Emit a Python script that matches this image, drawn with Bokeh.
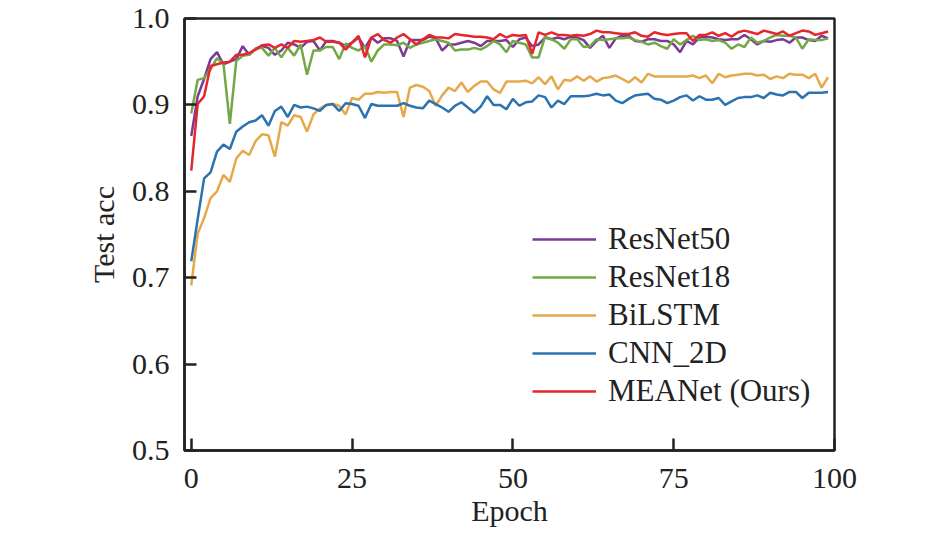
from bokeh.plotting import figure
from bokeh.models import Range1d, FixedTicker, PrintfTickFormatter
from bokeh.embed import file_html
from bokeh.resources import INLINE

epochs = list(range(100))

resnet50 = [
    0.864, 0.910, 0.930, 0.953, 0.961, 0.947, 0.950, 0.953, 0.968, 0.958,
    0.965, 0.968, 0.966, 0.958, 0.963, 0.972, 0.970, 0.966, 0.973, 0.974,
    0.963, 0.974, 0.974, 0.972, 0.968, 0.972, 0.978, 0.966, 0.978, 0.972,
    0.977, 0.977, 0.974, 0.956, 0.975, 0.975, 0.975, 0.979, 0.977, 0.963,
    0.970, 0.970, 0.972, 0.974, 0.972, 0.968, 0.974, 0.974, 0.974, 0.975,
    0.967, 0.976, 0.978, 0.968, 0.970, 0.978, 0.976, 0.978, 0.976, 0.979,
    0.978, 0.975, 0.966, 0.974, 0.980, 0.966, 0.977, 0.980, 0.980, 0.974,
    0.973, 0.976, 0.976, 0.974, 0.974, 0.970, 0.961, 0.974, 0.970, 0.978,
    0.979, 0.978, 0.976, 0.975, 0.976, 0.976, 0.981, 0.976, 0.970, 0.974,
    0.973, 0.975, 0.976, 0.972, 0.978, 0.978, 0.975, 0.974, 0.980, 0.977,
]

resnet18 = [
    0.890, 0.929, 0.931, 0.941, 0.954, 0.948, 0.878, 0.951, 0.957, 0.958,
    0.965, 0.966, 0.957, 0.966, 0.955, 0.966, 0.957, 0.970, 0.935, 0.963,
    0.963, 0.967, 0.967, 0.953, 0.971, 0.966, 0.963, 0.968, 0.950, 0.963,
    0.970, 0.970, 0.969, 0.972, 0.966, 0.970, 0.972, 0.974, 0.976, 0.974,
    0.972, 0.963, 0.964, 0.964, 0.966, 0.964, 0.968, 0.974, 0.970, 0.961,
    0.974, 0.972, 0.970, 0.955, 0.955, 0.979, 0.976, 0.972, 0.965, 0.976,
    0.976, 0.967, 0.968, 0.976, 0.975, 0.976, 0.977, 0.977, 0.978, 0.975,
    0.973, 0.970, 0.972, 0.968, 0.965, 0.976, 0.970, 0.975, 0.980, 0.975,
    0.976, 0.974, 0.975, 0.972, 0.965, 0.970, 0.967, 0.978, 0.972, 0.974,
    0.978, 0.981, 0.980, 0.980, 0.978, 0.965, 0.976, 0.975, 0.975, 0.977,
]

bilstm = [
    0.691, 0.751, 0.769, 0.792, 0.800, 0.819, 0.811, 0.838, 0.847, 0.842,
    0.858, 0.866, 0.865, 0.840, 0.880, 0.876, 0.888, 0.886, 0.869, 0.889,
    0.896, 0.900, 0.901, 0.899, 0.889, 0.908, 0.906, 0.913, 0.913, 0.915,
    0.914, 0.915, 0.915, 0.886, 0.920, 0.923, 0.921, 0.916, 0.899, 0.911,
    0.920, 0.916, 0.926, 0.915, 0.922, 0.927, 0.927, 0.918, 0.914, 0.927,
    0.927, 0.927, 0.928, 0.925, 0.932, 0.924, 0.933, 0.918, 0.929, 0.928,
    0.933, 0.928, 0.933, 0.927, 0.931, 0.932, 0.934, 0.930, 0.926, 0.932,
    0.926, 0.936, 0.933, 0.933, 0.933, 0.933, 0.933, 0.933, 0.934, 0.931,
    0.934, 0.925, 0.936, 0.932, 0.934, 0.935, 0.936, 0.936, 0.934, 0.935,
    0.930, 0.933, 0.931, 0.936, 0.935, 0.935, 0.931, 0.936, 0.920, 0.932,
]

cnn_2d = [
    0.719, 0.768, 0.815, 0.822, 0.846, 0.854, 0.849, 0.869, 0.875, 0.880,
    0.882, 0.888, 0.876, 0.893, 0.898, 0.886, 0.900, 0.897, 0.898, 0.896,
    0.893, 0.900, 0.901, 0.893, 0.902, 0.901, 0.899, 0.885, 0.901, 0.899,
    0.899, 0.899, 0.899, 0.902, 0.899, 0.897, 0.896, 0.905, 0.901, 0.897,
    0.892, 0.899, 0.903, 0.897, 0.891, 0.898, 0.910, 0.900, 0.900, 0.895,
    0.907, 0.899, 0.903, 0.904, 0.911, 0.909, 0.897, 0.905, 0.901, 0.910,
    0.910, 0.910, 0.911, 0.913, 0.911, 0.912, 0.905, 0.902, 0.907, 0.911,
    0.912, 0.913, 0.907, 0.906, 0.902, 0.905, 0.909, 0.911, 0.905, 0.910,
    0.906, 0.906, 0.908, 0.900, 0.904, 0.908, 0.909, 0.909, 0.911, 0.908,
    0.914, 0.912, 0.911, 0.915, 0.915, 0.908, 0.914, 0.914, 0.914, 0.915,
]

meanet = [
    0.824, 0.901, 0.910, 0.945, 0.947, 0.949, 0.950, 0.958, 0.958, 0.960,
    0.964, 0.969, 0.970, 0.966, 0.970, 0.966, 0.974, 0.973, 0.974, 0.975,
    0.978, 0.973, 0.973, 0.972, 0.964, 0.972, 0.980, 0.955, 0.978, 0.982,
    0.975, 0.972, 0.978, 0.982, 0.976, 0.970, 0.976, 0.981, 0.978, 0.978,
    0.977, 0.982, 0.981, 0.980, 0.979, 0.979, 0.978, 0.976, 0.982, 0.978,
    0.981, 0.980, 0.981, 0.959, 0.984, 0.981, 0.984, 0.981, 0.981, 0.980,
    0.981, 0.980, 0.982, 0.986, 0.984, 0.984, 0.983, 0.982, 0.982, 0.984,
    0.980, 0.979, 0.984, 0.982, 0.981, 0.982, 0.983, 0.983, 0.974, 0.981,
    0.981, 0.984, 0.980, 0.983, 0.979, 0.984, 0.986, 0.984, 0.982, 0.986,
    0.984, 0.982, 0.985, 0.980, 0.983, 0.986, 0.985, 0.981, 0.983, 0.985,
]

series = [
    ("ResNet50", resnet50, "#7B3A96"),
    ("ResNet18", resnet18, "#72A846"),
    ("BiLSTM", bilstm, "#E5A94A"),
    ("CNN_2D", cnn_2d, "#2B72B0"),
    ("MEANet (Ours)", meanet, "#E5272B"),
]

FONT = "Liberation Serif"
INK = "#222222"

p = figure(width=937, height=536, output_backend="svg", toolbar_location=None,
           x_range=Range1d(-1.05, 100), y_range=Range1d(0.5, 1.0),
           min_border_left=184, min_border_right=103,
           min_border_top=18, min_border_bottom=86)

for name, vals, color in series:
    p.line(epochs, vals, color=color, line_width=2.5, legend_label=name)

p.xgrid.visible = False
p.ygrid.visible = False
p.outline_line_color = INK
p.outline_line_width = 2.5

p.xaxis.ticker = FixedTicker(ticks=[0, 25, 50, 75, 100])
p.yaxis.ticker = FixedTicker(ticks=[0.5, 0.6, 0.7, 0.8, 0.9, 1.0])
p.yaxis.formatter = PrintfTickFormatter(format="%.1f")
p.xaxis.axis_label = "Epoch"
p.yaxis.axis_label = "Test acc"

for ax in (p.xaxis[0], p.yaxis[0]):
    ax.axis_line_color = INK
    ax.axis_line_width = 2.5
    ax.major_tick_line_color = INK
    ax.major_tick_line_width = 2.5
    ax.major_tick_in = 12
    ax.major_tick_out = 0
    ax.minor_tick_in = 0
    ax.minor_tick_out = 0
    ax.major_label_text_font = FONT
    ax.major_label_text_font_size = "30px"
    ax.major_label_text_color = INK
    ax.axis_label_text_font = FONT
    ax.axis_label_text_font_size = "30px"
    ax.axis_label_text_font_style = "normal"
    ax.axis_label_text_color = INK

p.xaxis.major_label_standoff = 18
p.xaxis.axis_label_standoff = 3
p.yaxis.major_label_standoff = 15
p.yaxis.axis_label_standoff = 9

leg = p.legend[0]
leg.location = (348, 41)
leg.margin = 0
leg.padding = 0
leg.spacing = 2
leg.glyph_width = 64
leg.glyph_height = 30
leg.label_height = 30
leg.label_standoff = 12
leg.label_text_font = FONT
leg.label_text_font_size = "31px"
leg.label_text_color = INK
leg.border_line_alpha = 0
leg.background_fill_alpha = 0

open("out.html", "w").write(file_html(p, INLINE))
